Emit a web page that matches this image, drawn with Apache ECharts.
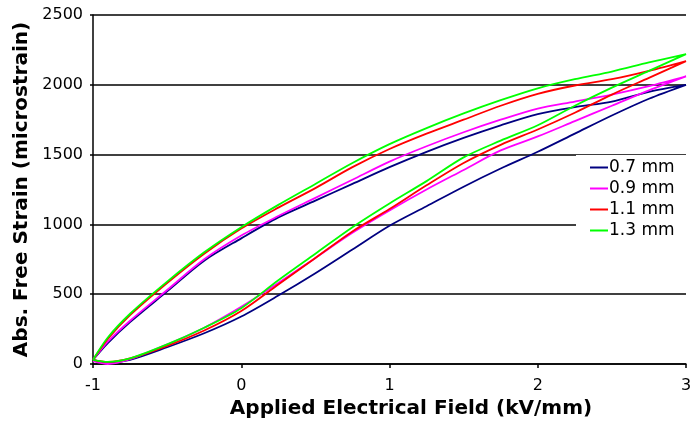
<!DOCTYPE html>
<html><head><meta charset="utf-8">
<script src="https://cdn.jsdelivr.net/npm/echarts@6/dist/echarts.min.js"></script>
<style>html,body{margin:0;padding:0;background:#fff;overflow:hidden;width:693px;height:423px}#c{width:693px;height:423px;overflow:hidden}</style>
</head><body><div id="c"></div>
<script>
const seriesNames = ['0.7 mm', '0.9 mm', '1.1 mm', '1.3 mm'];
const colors = ['#000080', '#ff00ff', '#ff0000', '#00ff00'];
const xUp = [-1, -0.9, -0.75, -0.5, -0.25, 0, 0.25, 0.5, 0.75, 1, 1.25, 1.5, 1.75, 2, 2.25, 2.5, 2.75, 3];
// lower branch (field increasing), values at xUp
const lower07 = [30, 10, 30, 120, 220, 340, 490, 650, 820, 990, 1130, 1270, 1400, 1520, 1650, 1780, 1900, 2000];
const lower09 = [20, 0, 35, 140, 260, 410, 580, 760, 940, 1100, 1250, 1390, 1530, 1630, 1740, 1850, 1960, 2060];
const lower11 = [30, 15, 40, 130, 240, 380, 570, 760, 950, 1110, 1280, 1440, 1570, 1680, 1800, 1930, 2050, 2170];
const lower13 = [30, 15, 40, 140, 260, 400, 600, 790, 980, 1150, 1310, 1480, 1600, 1710, 1850, 1980, 2100, 2220];
// upper branch (field decreasing), values at xUp
const upper07 = [30, 150, 300, 520, 740, 900, 1050, 1170, 1290, 1410, 1520, 1620, 1710, 1790, 1840, 1880, 1950, 2000];
const upper09 = [30, 160, 310, 530, 750, 920, 1060, 1190, 1320, 1450, 1560, 1660, 1750, 1830, 1880, 1930, 1990, 2060];
const upper11 = [30, 180, 350, 580, 790, 970, 1120, 1260, 1410, 1540, 1650, 1750, 1850, 1935, 1995, 2040, 2100, 2170];
const upper13 = [30, 190, 360, 590, 800, 980, 1140, 1290, 1440, 1575, 1690, 1795, 1890, 1975, 2040, 2095, 2160, 2220];
const xTicks = [-1, 0, 1, 2, 3];
const yTicks = [0, 500, 1000, 1500, 2000, 2500];

const lowers = [lower07, lower09, lower11, lower13];
const uppers = [upper07, upper09, upper11, upper13];
function loop(lo, up) {
  const pts = xUp.map((x, i) => [x, lo[i]]);
  for (let i = xUp.length - 2; i >= 0; i--) pts.push([xUp[i], up[i]]);
  return pts;
}
const FONT = 'DejaVu Sans';
const chart = echarts.init(document.getElementById('c'), null, {renderer: 'canvas', width: 693, height: 423});
chart.setOption({
  animation: false,
  backgroundColor: '#fff',
  grid: {left: 93, right: 7, top: 15, bottom: 59, containLabel: false, outerBoundsMode: 'none'},
  xAxis: {
    type: 'value', min: xTicks[0], max: xTicks[xTicks.length - 1], interval: 1,
    name: 'Applied Electrical Field (kV/mm)', nameLocation: 'middle', nameGap: 33,
    nameTextStyle: {fontFamily: FONT, fontWeight: 'bold', fontSize: 20, color: '#000', padding: [0, 0, 0, 43]},
    axisLine: {onZero: false, lineStyle: {color: '#000', width: 1.5}},
    axisTick: {show: true, inside: false, length: 4, lineStyle: {color: '#000', width: 1.5}},
    axisLabel: {fontFamily: FONT, fontSize: 16, color: '#000', margin: 14},
    splitLine: {show: false}
  },
  yAxis: {
    type: 'value', min: yTicks[0], max: yTicks[yTicks.length - 1], interval: 500,
    name: 'Abs. Free Strain (microstrain)', nameLocation: 'middle', nameGap: 60,
    nameTextStyle: {fontFamily: FONT, fontWeight: 'bold', fontSize: 20, color: '#000'},
    axisLine: {show: true, onZero: false, lineStyle: {color: '#000', width: 1.5}},
    axisTick: {show: true, inside: false, length: 3, lineStyle: {color: '#000', width: 1.5}},
    axisLabel: {fontFamily: FONT, fontSize: 16, color: '#000', margin: 10, formatter: v => String(v)},
    splitLine: {show: true, lineStyle: {color: '#000', width: 1.5}}
  },
  legend: {
    orient: 'vertical', left: 576, top: 155, backgroundColor: '#fff',
    padding: [4, 16, 4, 14], itemGap: 4, itemWidth: 18, itemHeight: 2, icon: 'rect',
    textStyle: {fontFamily: FONT, fontSize: 17, color: '#000', padding: [0, 0, 0, -4]},
    data: seriesNames
  },
  series: seriesNames.map((n, i) => ({
    name: n, type: 'line', data: loop(lowers[i], uppers[i]), smooth: 0.3,
    showSymbol: false, symbol: 'none', color: colors[i],
    lineStyle: {color: colors[i], width: 1.8}
  }))
});
</script></body></html>
